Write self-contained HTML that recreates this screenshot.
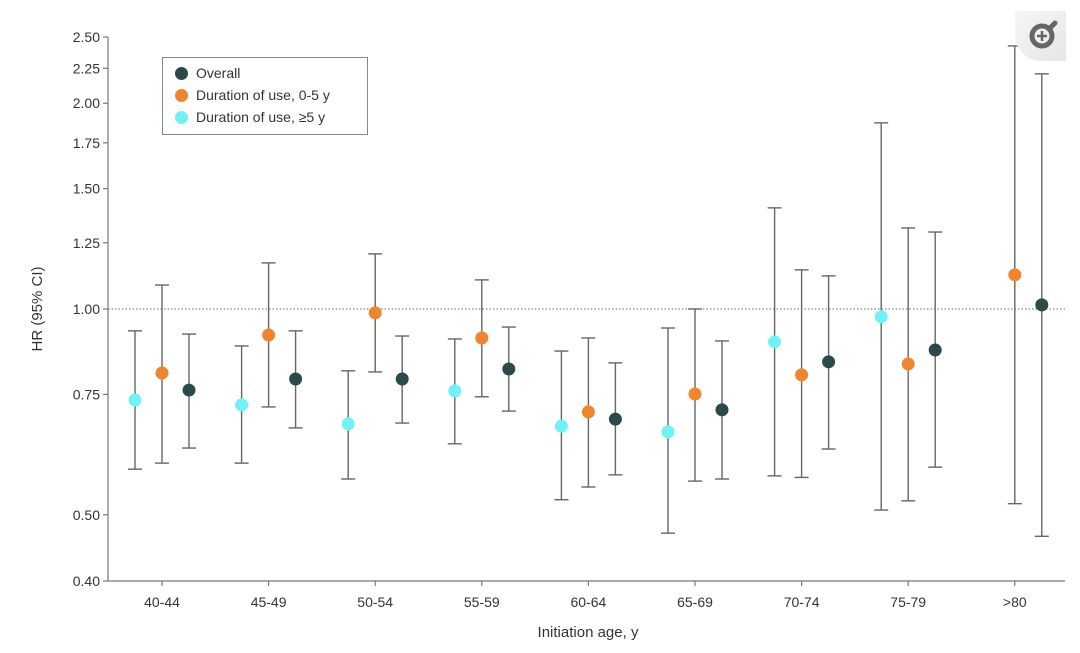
<!DOCTYPE html>
<html><head><meta charset="utf-8"><style>
body{margin:0;background:#fff;width:1080px;height:653px;overflow:hidden;font-family:"Liberation Sans",sans-serif}
svg{display:block}
</style></head><body>
<svg id="c" width="1080" height="653" xmlns="http://www.w3.org/2000/svg"></svg>
<script>
const categories=["40-44","45-49","50-54","55-59","60-64","65-69","70-74","75-79",">80"];
const yTicks=[0.40,0.50,0.75,1.00,1.25,1.50,1.75,2.00,2.25,2.50];
const cyanHR=[0.736,0.724,0.679,0.759,0.674,0.661,0.895,0.974,null];
const cyanLo=[0.583,0.595,0.564,0.635,0.526,0.470,0.570,0.508,null];
const cyanHi=[0.929,0.883,0.812,0.904,0.868,0.938,1.406,1.872,null];
const orangeHR=[0.806,0.916,0.987,0.907,0.707,0.751,0.801,0.831,1.122];
const orangeLo=[0.595,0.719,0.809,0.744,0.549,0.560,0.567,0.524,0.519];
const orangeHi=[1.084,1.168,1.204,1.103,0.907,1.000,1.141,1.314,2.426];
const overallHR=[0.761,0.790,0.790,0.817,0.690,0.712,0.837,0.871,1.014];
const overallLo=[0.626,0.670,0.681,0.709,0.572,0.564,0.624,0.587,0.465];
const overallHi=[0.919,0.929,0.913,0.941,0.834,0.898,1.118,1.296,2.208];

const NS="http://www.w3.org/2000/svg";
const svg=document.getElementById('c');
const Y0=581,Y1=37,VMIN=0.4,VMAX=2.5;
function y(v){return Y0-(Math.log(v/VMIN)/Math.log(VMAX/VMIN))*(Y0-Y1);}
function x(i){return 162+i*106.6;}
function mk(tag,attrs,parent){const e=document.createElementNS(NS,tag);for(const k in attrs)e.setAttribute(k,attrs[k]);(parent||svg).appendChild(e);return e;}

// axes
const ax=mk('g',{});


mk('line',{x1:108,y1:y(2.5),x2:108,y2:Y0,stroke:'#777','stroke-width':1.2},ax);
yTicks.forEach(t=>{
  mk('line',{x1:103,x2:108,y1:y(t),y2:y(t),stroke:'#777','stroke-width':1.2},ax);
  const tx=mk('text',{x:100,y:y(t)+5,'text-anchor':'end','font-size':14,fill:'#333'},ax);
  tx.textContent=t.toFixed(2);
});
const xa=mk('g',{});


mk('line',{x1:108,y1:Y0,x2:1065,y2:Y0,stroke:'#777','stroke-width':1.2},xa);
categories.forEach((c,i)=>{
  mk('line',{x1:x(i),x2:x(i),y1:Y0,y2:Y0+5,stroke:'#777','stroke-width':1.2},xa);
  const tx=mk('text',{x:x(i),y:607,'text-anchor':'middle','font-size':14,fill:'#333'},xa);
  tx.textContent=c;
});
const xt=mk('text',{x:588,y:637,'text-anchor':'middle','font-size':15,fill:'#333'});


xt.textContent='Initiation age, y';
const yt=mk('text',{x:0,y:0,'text-anchor':'middle','font-size':15,fill:'#333',transform:'translate(42,309) rotate(-90)'});


yt.textContent='HR (95% CI)';
// reference line
const rl=mk('line',{x1:108,x2:1065,y1:y(1),y2:y(1),stroke:'#666','stroke-width':1,'stroke-dasharray':'1.5,2'});



const series=[
 {name:'cyan',hr:cyanHR,lo:cyanLo,hi:cyanHi,off:-27,col:'#6ef2f7'},
 {name:'orange',hr:orangeHR,lo:orangeLo,hi:orangeHi,off:0,col:'#f0852d'},
 {name:'overall',hr:overallHR,lo:overallLo,hi:overallHi,off:27,col:'#2c4a4c'}
];
series.forEach(s=>{
  const g=mk('g',{});
  
  
  s.hr.forEach((v,i)=>{
    if(v==null)return;
    const cx=x(i)+s.off;
    const eb=mk('g',{stroke:'#666','stroke-width':1.4},g);
    
    
    mk('line',{x1:cx,x2:cx,y1:y(s.lo[i]),y2:y(s.hi[i])},eb);
    mk('line',{x1:cx-7,x2:cx+7,y1:y(s.lo[i]),y2:y(s.lo[i])},eb);
    mk('line',{x1:cx-7,x2:cx+7,y1:y(s.hi[i]),y2:y(s.hi[i])},eb);
    const p=mk('circle',{cx:cx,cy:y(v),r:6.5,fill:s.col},g);
    
    
  });
});
</script>
<div style="position:absolute;left:162px;top:57px;width:206px;height:78px;border:1px solid #888;box-sizing:border-box;font-size:14px;color:#333">
 <div style="position:absolute;left:12px;top:7px;white-space:nowrap"><span style="display:inline-block;width:13px;height:13px;border-radius:50%;background:#2c4a4c;vertical-align:-2px;margin-right:8px"></span>Overall</div>
 <div style="position:absolute;left:12px;top:29px;white-space:nowrap"><span style="display:inline-block;width:13px;height:13px;border-radius:50%;background:#f0852d;vertical-align:-2px;margin-right:8px"></span>Duration of use, 0-5 y</div>
 <div style="position:absolute;left:12px;top:51px;white-space:nowrap"><span style="display:inline-block;width:13px;height:13px;border-radius:50%;background:#6ef2f7;vertical-align:-2px;margin-right:8px"></span>Duration of use, ≥5 y</div>
</div>
<div style="position:absolute;left:1015px;top:11px;width:51px;height:50px;background:linear-gradient(135deg,#f6f6f6,#e6e6e6);border-bottom-left-radius:26px">
 <svg width="51" height="50" style="position:absolute;left:0;top:0"><circle cx="27" cy="25" r="10" fill="none" stroke="#666" stroke-width="5"/><line x1="34" y1="18" x2="40" y2="12" stroke="#666" stroke-width="5" stroke-linecap="round"/><line x1="22" y1="25" x2="32" y2="25" stroke="#666" stroke-width="2.5"/><line x1="27" y1="20" x2="27" y2="30" stroke="#666" stroke-width="2.5"/></svg>
</div>
</body></html>
